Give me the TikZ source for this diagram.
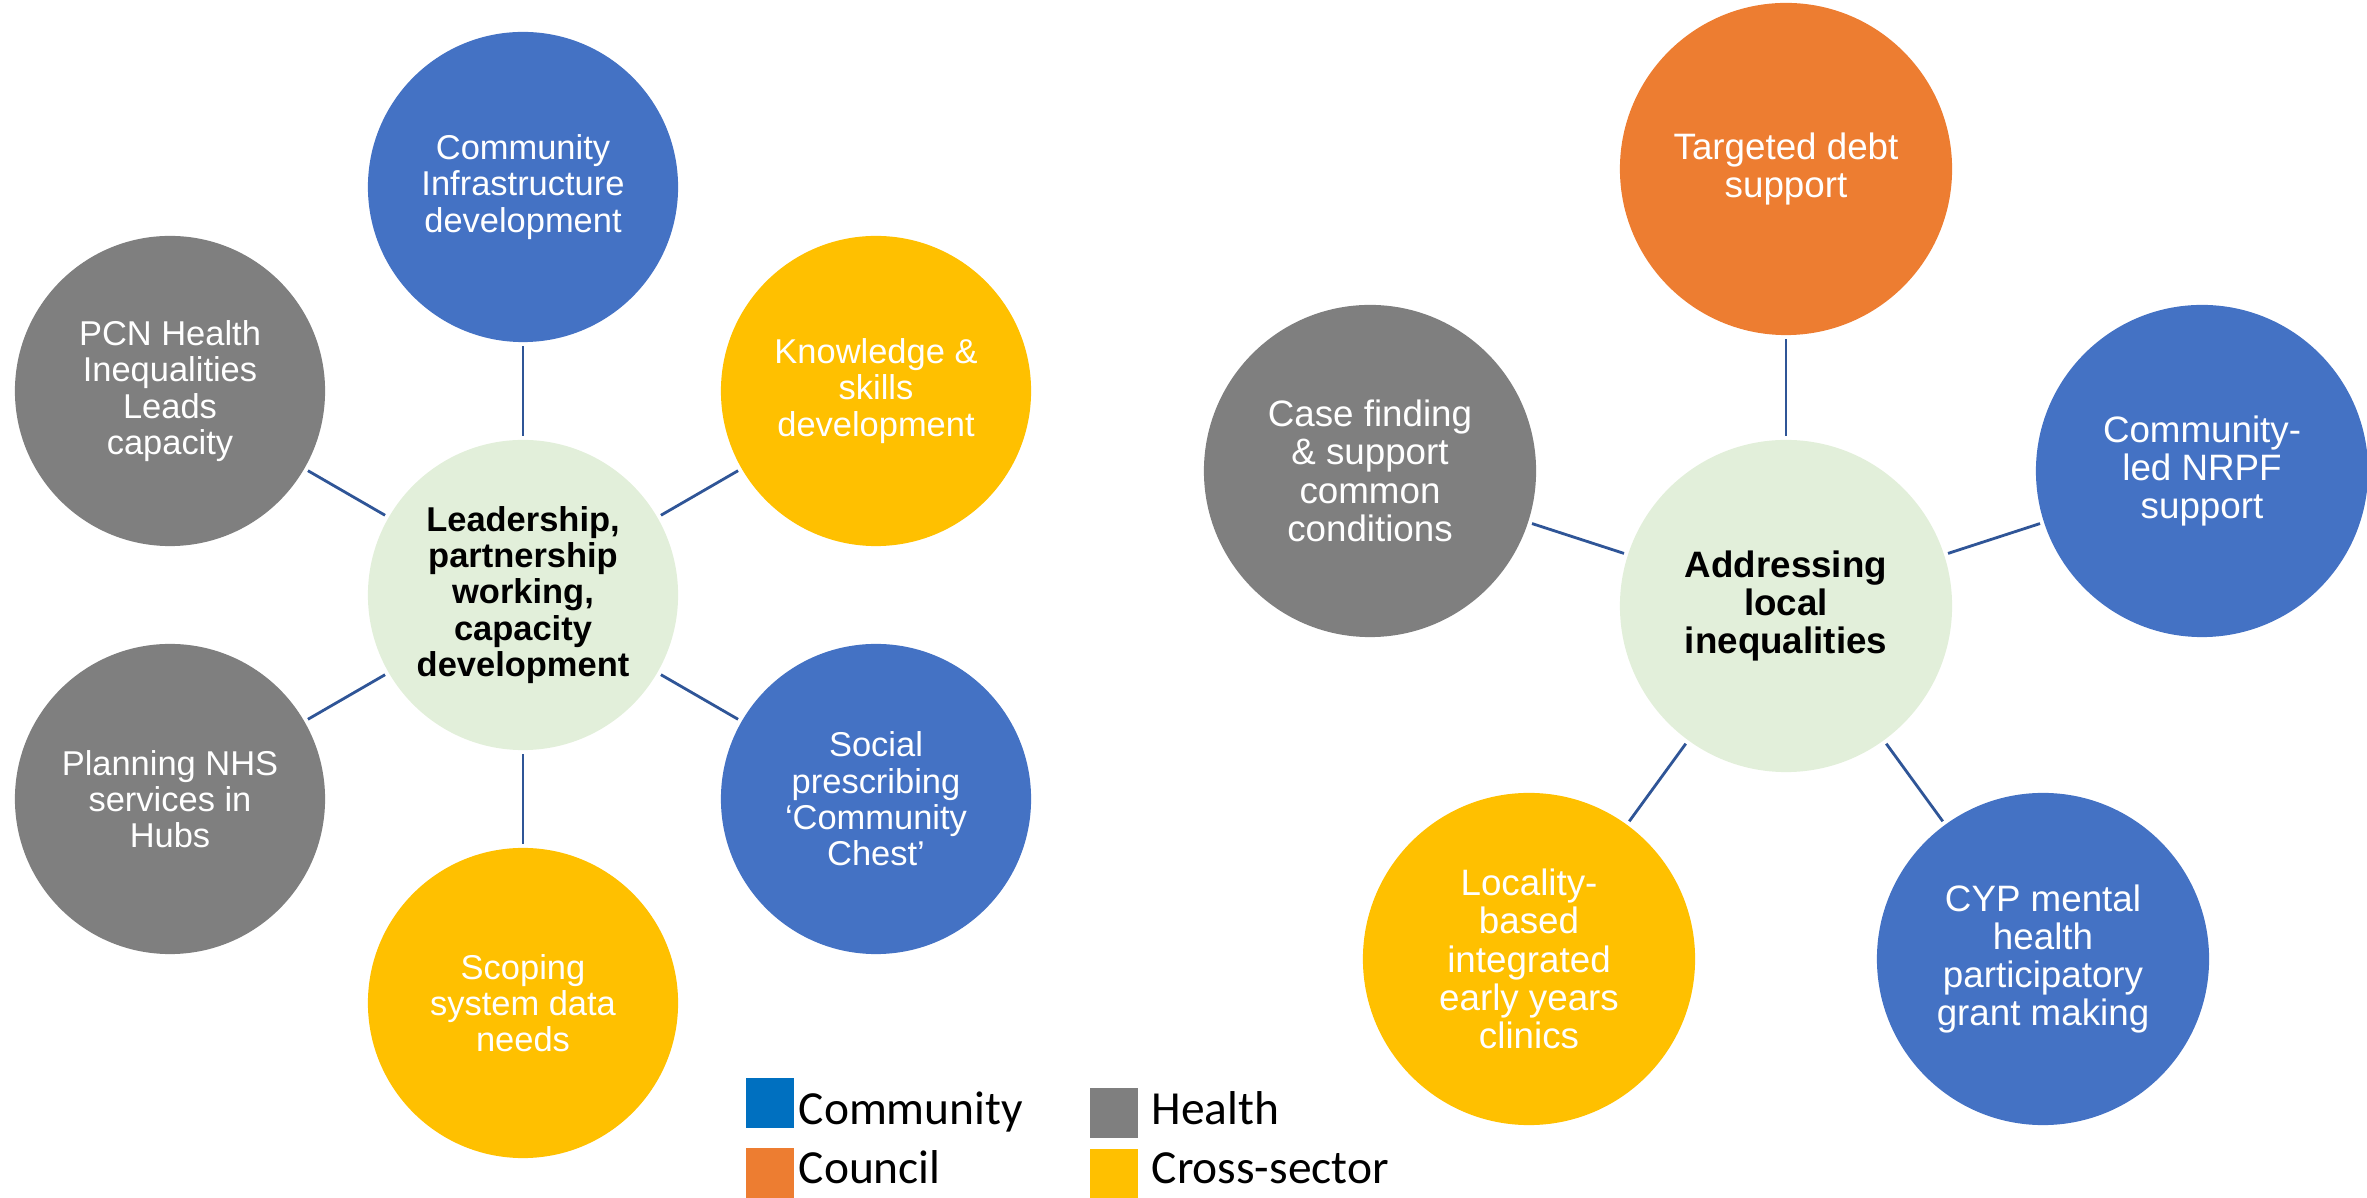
\documentclass[tikz,border=0pt]{standalone}
\usepackage{fontspec}
\setmainfont{Liberation Sans}
\newfontfamily\legendfont{Carlito}
\usepackage{xcolor}
\usepackage{tikz}
\definecolor{pblue}{HTML}{4472C4}
\definecolor{porange}{HTML}{ED7D31}
\definecolor{pgrey}{HTML}{7F7F7F}
\definecolor{pyellow}{HTML}{FFC000}
\definecolor{pgreen}{HTML}{E2EFDA}
\definecolor{plink}{HTML}{2F5597}
\definecolor{keyblue}{HTML}{0070C0}

\begin{document}
\begin{tikzpicture}[x=0.01cm, y=0.01cm,
    leftdot/.style={circle, minimum size=3.1cm, inner sep=0pt, align=center, text=white, font=\fontsize{9.8}{10.3}\selectfont},
    rightdot/.style={circle, minimum size=3.32cm, inner sep=0pt, align=center, text=white, font=\fontsize{10.45}{10.9}\selectfont},
    hubtext/.style={text=black, font=\bfseries},
    link/.style={plink, line width=0.8pt, shorten <=1pt, shorten >=1pt},
    keybox/.style={minimum width=0.48cm, minimum height=0.5cm, inner sep=0pt},
    keytext/.style={anchor=base west, inner sep=0pt, font=\legendfont\fontsize{13.5}{14}\selectfont}]
                \useasboundingbox (0,0) rectangle (2367,1197);

                % Left cluster: hub
                \node[leftdot, fill=pgreen, hubtext, font=\fontsize{9.8}{10.3}\selectfont\bfseries] (lhub) at (523,602) {Leadership,\\partnership\\working,\\capacity\\development};

                % Left cluster: spokes
                \node[leftdot, fill=pblue] (infra) at (523,1010) {Community\\Infrastructure\\development};
                \node[leftdot, fill=pyellow] (skills) at (876,806) {Knowledge \&\\skills\\development};
                \node[leftdot, fill=pblue] (social) at (876,398) {Social\\prescribing\\‘Community\\Chest’};
                \node[leftdot, fill=pyellow] (scoping) at (523,194) {Scoping\\system data\\needs};
                \node[leftdot, fill=pgrey] (planning) at (170,398) {Planning NHS\\services in\\Hubs};
                \node[leftdot, fill=pgrey] (pcn) at (170,806) {PCN Health\\Inequalities\\Leads\\capacity};

                % Left cluster: links
                \draw[link] (lhub) -- (infra);
                \draw[link] (lhub) -- (skills);
                \draw[link] (lhub) -- (social);
                \draw[link] (lhub) -- (scoping);
                \draw[link] (lhub) -- (planning);
                \draw[link] (lhub) -- (pcn);

                % Right cluster: hub
                \node[rightdot, fill=pgreen, hubtext, font=\fontsize{10.45}{10.9}\selectfont\bfseries] (rhub) at (1786,591) {Addressing\\local\\inequalities};

                % Right cluster: spokes
                \node[rightdot, fill=porange] (debt) at (1786,1028) {Targeted debt\\support};
                \node[rightdot, fill=pblue] (nrpf) at (2202,726) {Community-\\led NRPF\\support};
                \node[rightdot, fill=pblue] (cyp) at (2043,238) {CYP mental\\health\\participatory\\grant making};
                \node[rightdot, fill=pyellow] (locality) at (1529,238) {Locality-\\based\\integrated\\early years\\clinics};
                \node[rightdot, fill=pgrey] (casefind) at (1370,726) {Case finding\\\& support\\common\\conditions};

                % Right cluster: links
                \draw[link] (rhub) -- (debt);
                \draw[link] (rhub) -- (nrpf);
                \draw[link] (rhub) -- (cyp);
                \draw[link] (rhub) -- (locality);
                \draw[link] (rhub) -- (casefind);

                % Legend
                \node[keybox, fill=keyblue] (kcom) at (770,94) {};
                \node[keybox, fill=porange] (kcou) at (770,24) {};
                \node[keybox, fill=pgrey] (khea) at (1114,84) {};
                \node[keybox, fill=pyellow] (kcro) at (1114,23) {};
                \node[keytext] (tcom) at (798,73) {Community};
                \node[keytext] (tcou) at (798,14) {Council};
                \node[keytext] (thea) at (1151,73) {Health};
                \node[keytext] (tcro) at (1151,14) {Cross-sector};
            \end{tikzpicture}
\end{document}
